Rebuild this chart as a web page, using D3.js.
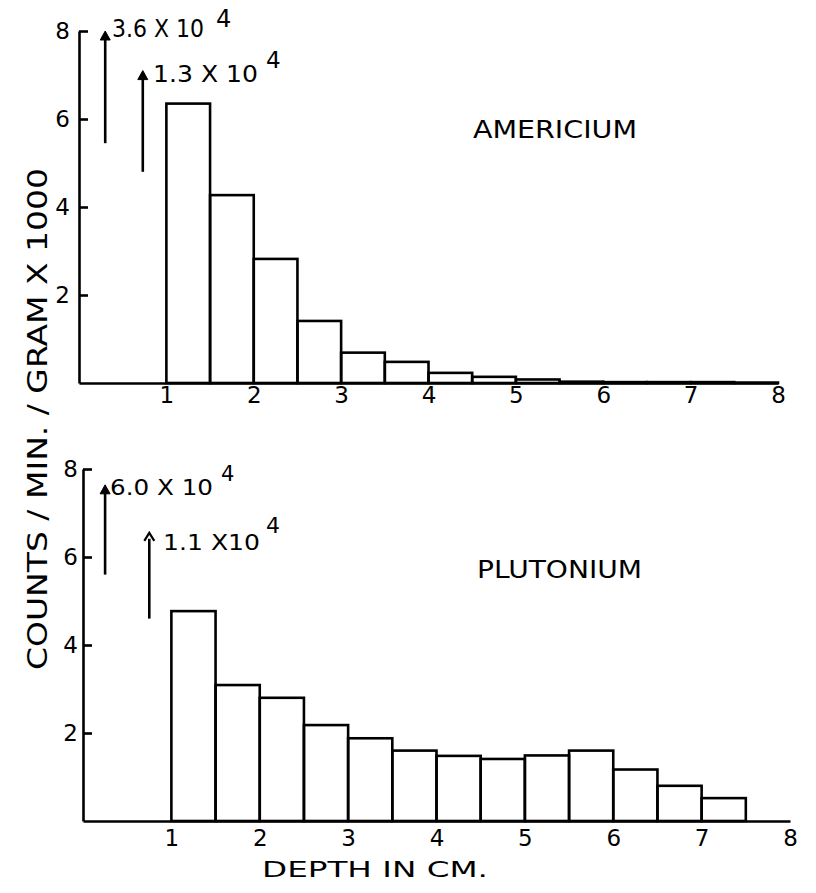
<!DOCTYPE html>
<html>
<head>
<meta charset="utf-8">
<script src="https://cdn.jsdelivr.net/npm/d3@7"></script>
<style>
  html, body { margin: 0; padding: 0; background: #fff; }
  svg { display: block; }
  text { font-family: "DejaVu Sans", sans-serif; fill: #000; }
</style>
</head>
<body>
<svg id="chart" width="816" height="893"></svg>
<script>
// ---------- data ----------
const binWidth = 0.5;
const amBinStarts = [1, 1.5, 2, 2.5, 3, 3.5, 4, 4.5, 5, 5.5, 6, 6.5, 7, 7.5];
const amValues    = [6.35, 4.27, 2.82, 1.41, 0.69, 0.48, 0.23, 0.14, 0.08, 0.03, 0.02, 0.02, 0.02, 0.01];
const puBinStarts = [1, 1.5, 2, 2.5, 3, 3.5, 4, 4.5, 5, 5.5, 6, 6.5, 7];
const puValues    = [4.77, 3.09, 2.80, 2.18, 1.88, 1.60, 1.48, 1.41, 1.49, 1.60, 1.17, 0.80, 0.52];

// off-scale bins (0-0.5 and 0.5-1) shown as arrows
const amArrowX    = [0.3, 0.73];
const amArrowFrom = [5.45, 4.8];
const amArrowTo   = [8.0, 7.1];
const amArrowText = ["3.6 X 10", "1.3 X 10"];
const puArrowX    = [0.25, 0.75];
const puArrowFrom = [5.6, 4.6];
const puArrowTo   = [7.64, 6.55];
const puArrowText = ["6.0 X 10", "1.1 X10"];
const arrowExp    = "4";

const xTicks = [1, 2, 3, 4, 5, 6, 7, 8];
const yTicks = [2, 4, 6, 8];

const svg = d3.select("#chart");
const SW = 2.6;

function panel(cfg) {
  const g = svg.append("g");
  const x = d3.scaleLinear().domain([0, 8]).range(cfg.xr);
  const y = d3.scaleLinear().domain([0, 8]).range(cfg.yr);

  // bars
  g.selectAll("rect.bar").data(cfg.starts).join("rect")
    .attr("class", "bar")
    .attr("x", d => x(d))
    .attr("width", d => x(d + binWidth) - x(d))
    .attr("y", (d, i) => y(cfg.values[i]))
    .attr("height", (d, i) => y(0) - y(cfg.values[i]))
    .attr("fill", "none").attr("stroke", "#000").attr("stroke-width", SW);

  // x axis
  const xa = g.append("g").attr("transform", `translate(0,${y(0)})`)
    .call(d3.axisBottom(x).tickValues(xTicks).tickSize(0).tickSizeOuter(0).tickFormat(d3.format("d")));
  xa.select(".domain").attr("stroke-width", SW).attr("stroke", "#000");
  xa.selectAll("text").attr("font-size", 23).attr("dy", 0).attr("y", cfg.xLabelBase)
    .attr("font-family", "DejaVu Sans").attr("fill", "#000");

  // y axis
  const ya = g.append("g").attr("transform", `translate(${x(0)},0)`)
    .call(d3.axisLeft(y).tickValues(yTicks).tickSizeInner(-9).tickSizeOuter(0).tickPadding(cfg.yPad).tickFormat(d3.format("d")));
  ya.select(".domain").attr("stroke-width", SW).attr("stroke", "#000");
  ya.selectAll(".tick line").attr("stroke-width", SW).attr("stroke", "#000");
  ya.selectAll("text").attr("font-size", 23).attr("font-family", "DejaVu Sans").attr("fill", "#000");

  // off-scale arrows
  cfg.arrowX.forEach((ax, i) => {
    const px = x(ax), y0 = y(cfg.arrowFrom[i]), y1 = y(cfg.arrowTo[i]);
    g.append("line").attr("x1", px).attr("x2", px).attr("y1", y0).attr("y2", y1 + 6)
      .attr("stroke", "#000").attr("stroke-width", SW);
    if (cfg.openHead[i]) {
      g.append("path").attr("d", `M${px - 5},${y1 + 8}L${px},${y1}L${px + 5},${y1 + 8}`)
        .attr("fill", "none").attr("stroke", "#000").attr("stroke-width", 2.2);
    } else {
      g.append("path").attr("d", `M${px - 5},${y1 + 9}L${px},${y1}L${px + 5},${y1 + 9}Z`)
        .attr("fill", "#000").attr("stroke", "#000").attr("stroke-width", 1);
    }
    const lab = cfg.labels[i];
    g.append("text").attr("x", lab.x).attr("y", lab.base)
      .attr("font-size", lab.fs).attr("textLength", lab.w).attr("lengthAdjust", "spacingAndGlyphs")
      .text(cfg.arrowText[i]);
    g.append("text").attr("x", lab.ex).attr("y", lab.ebase)
      .attr("font-size", lab.fs).text(arrowExp);
  });

  // element name
  g.append("text").attr("x", cfg.name.x).attr("y", cfg.name.base)
    .attr("font-size", 24).attr("textLength", cfg.name.w).attr("lengthAdjust", "spacingAndGlyphs")
    .text(cfg.name.text);
}

panel({
  xr: [79, 778], yr: [383, 31], starts: amBinStarts, values: amValues,
  xLabelBase: 20, yPad: 9,
  arrowX: amArrowX, arrowFrom: amArrowFrom, arrowTo: amArrowTo, arrowText: amArrowText,
  openHead: [false, false],
  labels: [
    { x: 112, base: 37, w: 92, fs: 24, ex: 216, ebase: 27 },
    { x: 153, base: 82, w: 105, fs: 23, ex: 266, ebase: 68 }
  ],
  name: { x: 473, base: 138, w: 164, text: "AMERICIUM" }
});

panel({
  xr: [83, 790], yr: [821, 469], starts: puBinStarts, values: puValues,
  xLabelBase: 25, yPad: 5,
  arrowX: puArrowX, arrowFrom: puArrowFrom, arrowTo: puArrowTo, arrowText: puArrowText,
  openHead: [false, true],
  labels: [
    { x: 110, base: 495, w: 103, fs: 21, ex: 221, ebase: 481 },
    { x: 163, base: 550, w: 97, fs: 22, ex: 266, ebase: 533 }
  ],
  name: { x: 477, base: 578, w: 165, text: "PLUTONIUM" }
});

// axis titles
svg.append("text").attr("transform", "translate(47,419) rotate(-90)")
  .attr("text-anchor", "middle").attr("font-size", 26)
  .attr("textLength", 502).attr("lengthAdjust", "spacingAndGlyphs")
  .text("COUNTS / MIN. / GRAM X 1000");

svg.append("text").attr("x", 262).attr("y", 877)
  .attr("font-size", 21).attr("textLength", 226).attr("lengthAdjust", "spacingAndGlyphs")
  .text("DEPTH IN CM.");
</script>
</body>
</html>
